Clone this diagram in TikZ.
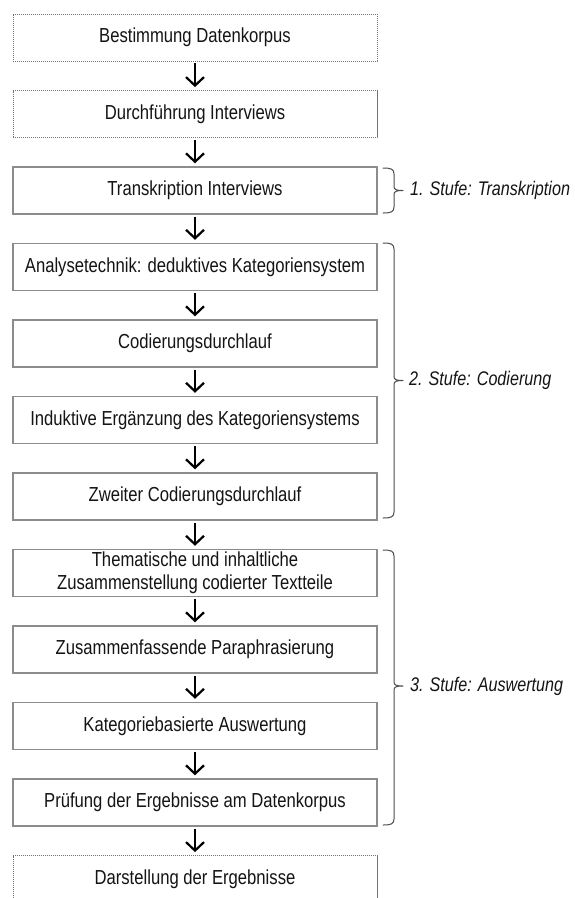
\documentclass[tikz,border=0pt]{standalone}
\usepackage{fontspec}
\setmainfont{Liberation Sans}[FakeStretch=0.82]
\usetikzlibrary{arrows.meta}

\tikzset{
  stepbox/.style={draw=black!45, line width=1.4pt, fill=white,
    minimum width=364pt, minimum height=47pt, inner sep=0pt,
    align=center, text=black!92,
    font=\fontsize{20.3}{23}\selectfont},
  openbox/.style={stepbox, draw=black!55, line width=0.8pt,
    dash pattern=on 1.2pt off 0.8pt},
  flowarrow/.style={draw=black, line width=2.2pt,
    -{Straight Barb[length=8.5pt, width=18pt, line width=2.2pt]},
    shorten <=2pt, shorten >=3pt},
  stagebrace/.style={draw=black!70, line width=1pt, line cap=round},
  stagelabel/.style={anchor=west, inner sep=0pt, text=black!92,
    font=\fontsize{19.7}{23}\selectfont\itshape}
}

% curly brace from top (#1) via middle tip (#2) to bottom (#3)
\newcommand\drawstagebrace[3]{%
  \draw[stagebrace] (383,#1) .. controls (391,#1) and (394,#1+1) .. (394,#1+6)
    -- (394,#2-4) .. controls (394,#2-1) and (396,#2) .. (403,#2)
    (403,#2) .. controls (396,#2) and (394,#2+1) .. (394,#2+4)
    -- (394,#3-6) .. controls (394,#3-1) and (391,#3) .. (383,#3);%
}

\begin{document}
\begin{tikzpicture}[x=1pt, y=-1pt]
  \useasboundingbox (0,0) rectangle (574,898);
  \clip (0,0) rectangle (574,898);

  % process steps
  \node[openbox]  (s1)  at (195,37.5)  {Bestimmung Datenkorpus};
  \node[openbox]  (s2)  at (195,114)   {Durchführung Interviews};
  \node[stepbox]  (s3)  at (195,190.5) {Transkription Interviews};
  \node[stepbox]  (s4)  at (195,267)   {Analysetechnik: deduktives Kategoriensystem};
  \node[stepbox]  (s5)  at (195,343.5) {Codierungsdurchlauf};
  \node[stepbox]  (s6)  at (195,420)   {Induktive Ergänzung des Kategoriensystems};
  \node[stepbox]  (s7)  at (195,496.5) {Zweiter Codierungsdurchlauf};
  \node[stepbox]  (s8)  at (195,573)   {Thematische und inhaltliche\\Zusammenstellung codierter Textteile};
  \node[stepbox]  (s9)  at (195,649.5) {Zusammenfassende Paraphrasierung};
  \node[stepbox]  (s10) at (195,726)   {Kategoriebasierte Auswertung};
  \node[stepbox]  (s11) at (195,802.5) {Prüfung der Ergebnisse am Datenkorpus};
  \node[openbox]  (s12) at (195,879)   {Darstellung der Ergebnisse};

  % flow
  \foreach \a/\b in {s1/s2, s2/s3, s3/s4, s4/s5, s5/s6, s6/s7,
                     s7/s8, s8/s9, s9/s10, s10/s11, s11/s12}
    \draw[flowarrow] (\a.south) -- (\b.north);

  % stages
  \drawstagebrace{168}{190.5}{213}
  \drawstagebrace{243}{380.5}{518}
  \drawstagebrace{550}{686}{825}

  \node[stagelabel] (l1) at (410,190.5) {1. Stufe: Transkription};
  \node[stagelabel] (l2) at (409,380.5) {2. Stufe: Codierung};
  \node[stagelabel] (l3) at (410,686)   {3. Stufe: Auswertung};
\end{tikzpicture}
\end{document}
